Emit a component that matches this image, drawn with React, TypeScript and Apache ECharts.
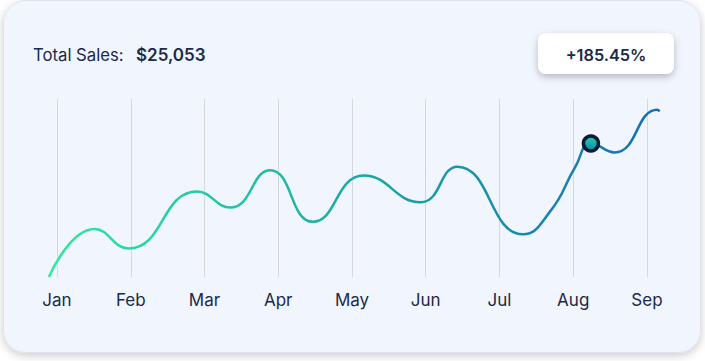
import React, { useEffect, useRef } from "react";
import * as echarts from "echarts";

const MONTHS = ["Jan", "Feb", "Mar", "Apr", "May", "Jun", "Jul", "Aug", "Sep"];
const MONTH_TICKS = [0, 1, 2, 3, 4, 5, 6, 7, 8];
// x in month units (Jan = 0), y = relative sales level
const LINE_X = [-0.11, 0.51, 0.97, 1.9, 2.35, 2.89, 3.47, 4.16, 4.93, 5.43, 6.32, 6.69, 7.03, 7.24, 7.56, 8.14, 8.17];
const LINE_Y = [0, 27, 16, 48, 39, 60, 31, 57, 42, 62, 24, 37, 62, 75, 70, 94, 93];
const HIGHLIGHT_INDEX = 13;
const TITLE_LABEL = "Total Sales:";
const TITLE_VALUE = "$25,053";
const BADGE_TEXT = "+185.45%";

const FONT = "Inter, 'DejaVu Sans', sans-serif";
const TEXT_COLOR = "#1b2a4a";

export default function App() {
  const ref = useRef<HTMLDivElement>(null);

  useEffect(() => {
    if (!ref.current) return;
    const chart = echarts.init(ref.current, undefined, { renderer: "svg" });
    const lineData = LINE_X.map((x, i) => [x, LINE_Y[i]]);

    chart.setOption({
      animation: false,
      backgroundColor: "#ffffff",
      grid: { left: 48.9, right: 45.5, top: 99, bottom: 84 },
      xAxis: {
        type: "value",
        min: LINE_X[0],
        max: LINE_X[LINE_X.length - 1],
        axisLine: { show: false },
        axisTick: { show: false, customValues: MONTH_TICKS },
        splitLine: { show: true, lineStyle: { color: "#d5d7dc", width: 1 } },
        axisLabel: {
          customValues: MONTH_TICKS,
          margin: 14,
          fontSize: 17,
          fontFamily: FONT,
          color: TEXT_COLOR,
          formatter: (v: number) => MONTHS[Math.round(v)] ?? "",
        },
      },
      yAxis: {
        type: "value",
        min: 0,
        max: 100,
        show: false,
        splitLine: { show: false },
      },
      graphic: [
        {
          type: "rect",
          z: -10,
          shape: { x: 3.5, y: 0.5, width: 697, height: 352, r: 22 },
          style: {
            fill: "#f0f5fe",
            stroke: "#dfe4ec",
            lineWidth: 1,
            shadowBlur: 9,
            shadowOffsetY: 3,
            shadowColor: "rgba(0,0,0,0.2)",
          },
          silent: true,
        },
        {
          type: "text",
          style: {
            text: TITLE_LABEL,
            x: 33,
            y: 55,
            fill: TEXT_COLOR,
            fontSize: 16.7,
            fontFamily: FONT,
            fontWeight: 400,
            textVerticalAlign: "middle",
          },
        },
        {
          type: "text",
          style: {
            text: TITLE_VALUE,
            x: 136,
            y: 55,
            fill: TEXT_COLOR,
            fontSize: 17,
            fontFamily: FONT,
            fontWeight: 600,
            textVerticalAlign: "middle",
          },
        },
        {
          type: "rect",
          shape: { x: 538, y: 33, width: 136, height: 41, r: 8 },
          style: {
            fill: "#ffffff",
            shadowBlur: 7,
            shadowOffsetY: 3,
            shadowColor: "rgba(0,0,0,0.25)",
          },
          silent: true,
        },
        {
          type: "text",
          style: {
            text: BADGE_TEXT,
            x: 606,
            y: 55,
            fill: TEXT_COLOR,
            fontSize: 16.3,
            fontFamily: FONT,
            fontWeight: 600,
            textAlign: "center",
            textVerticalAlign: "middle",
          },
        },
      ],
      series: [
        {
          type: "line",
          data: lineData,
          smooth: 0.5,
          clip: false,
          showSymbol: false,
          lineStyle: {
            width: 2.5,
            color: new echarts.graphic.LinearGradient(0, 0, 1, 0, [
              { offset: 0, color: "#30e8a0" },
              { offset: 0.5, color: "#18aaa6" },
              { offset: 1, color: "#166eb3" },
            ]),
          },
          z: 3,
        },
        {
          type: "scatter",
          data: [lineData[HIGHLIGHT_INDEX]],
          symbol: "circle",
          symbolSize: 15,
          clip: false,
          itemStyle: {
            opacity: 1,
            color: new echarts.graphic.LinearGradient(0, 0, 0, 1, [
              { offset: 0, color: "#1fd3a0" },
              { offset: 1, color: "#1486b6" },
            ]),
            borderColor: "#0b1a36",
            borderWidth: 3.5,
          },
          z: 5,
        },
      ],
    });

    return () => chart.dispose();
  }, []);

  return (
    <div
      ref={ref}
      style={{ position: "fixed", left: 0, top: 0, width: 705, height: 361 }}
    />
  );
}
